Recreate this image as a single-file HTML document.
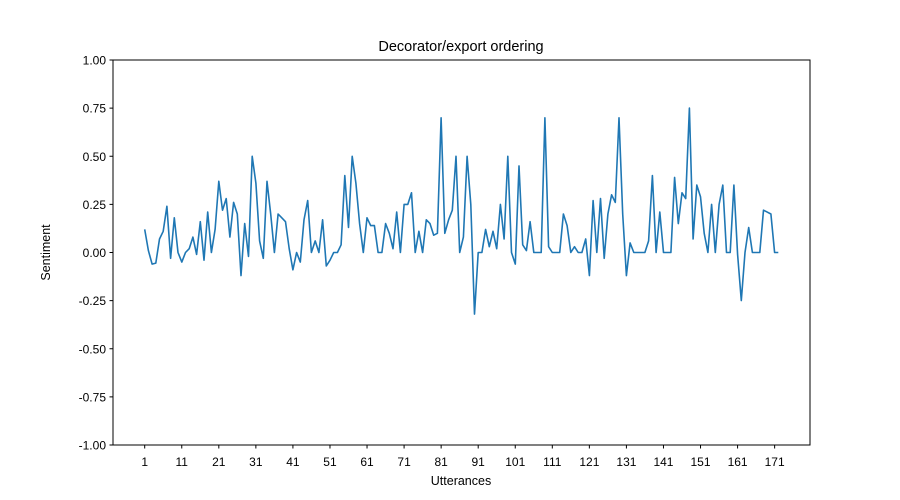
<!DOCTYPE html>
<html><head><meta charset="utf-8"><style>body{margin:0;background:#fff}svg{display:block}text{font-family:"Liberation Sans","DejaVu Sans",sans-serif;fill:#000}</style></head>
<body>
<svg id="s" width="900" height="500" xmlns="http://www.w3.org/2000/svg">
<rect x="113" y="60" width="697" height="385" fill="#fff" stroke="#000" stroke-width="1"/>
<text x="461" y="51" font-size="14.5" text-anchor="middle">Decorator/export ordering</text>
<text x="461" y="485" font-size="12.5" text-anchor="middle">Utterances</text>
<text x="50" y="252.5" font-size="12.5" text-anchor="middle" transform="rotate(-90 50 252.5)">Sentiment</text>
<g id="yt" font-size="12" text-anchor="end"></g>
<g id="xt" font-size="12" text-anchor="middle"></g>
<polyline id="ln" fill="none" stroke="#1f77b4" stroke-width="1.6" stroke-linejoin="round"/>
</svg>
<script>
var d=[0.12,0.01,-0.06,-0.055,0.07,0.11,0.24,-0.03,0.18,0,-0.05,0,0.02,0.08,-0.01,0.16,-0.04,0.21,0,0.12,0.37,0.22,0.28,0.08,0.26,0.2,-0.12,0.15,-0.02,0.5,0.36,0.06,-0.03,0.37,0.2,0,0.2,0.18,0.16,0.02,-0.09,0,-0.05,0.17,0.27,0,0.06,0,0.17,-0.07,-0.04,0,0,0.04,0.4,0.13,0.5,0.36,0.15,0,0.18,0.14,0.14,0,0,0.15,0.1,0.02,0.21,0,0.25,0.25,0.31,0,0.11,0,0.17,0.15,0.09,0.1,0.7,0.1,0.17,0.22,0.5,0,0.08,0.5,0.25,-0.32,0,0,0.12,0.03,0.11,0.02,0.25,0.07,0.5,0,-0.06,0.45,0.04,0.01,0.16,0,0,0,0.7,0.03,0,0,0,0.2,0.14,0,0.03,0,0,0.07,-0.12,0.27,0,0.28,-0.03,0.2,0.3,0.26,0.7,0.2,-0.12,0.05,0,0,0,0,0.06,0.4,0,0.21,0,0,0,0.39,0.15,0.31,0.28,0.75,0.07,0.35,0.29,0.1,0,0.25,0,0.25,0.35,0,0,0.35,-0.01,-0.25,0,0.13,0,0,0,0.22,0.21,0.2,0,0];
var ppu=3.7055,x0=144.7,p=[];
function X(i){return x0+(i-1)*ppu}function Y(v){return 252.5-v*192.5}
d.forEach(function(v,i){p.push(X(i+1).toFixed(1)+","+Y(v).toFixed(1))});
document.getElementById("ln").setAttribute("points",p.join(" "));
var ns="http://www.w3.org/2000/svg",yt=document.getElementById("yt"),xt=document.getElementById("xt");
for(var k=-4;k<=4;k++){var v=k*0.25,y=Y(v);var l=document.createElementNS(ns,"line");l.setAttribute("x1",109.5);l.setAttribute("x2",113);l.setAttribute("y1",y);l.setAttribute("y2",y);l.setAttribute("stroke","#000");yt.appendChild(l);var t=document.createElementNS(ns,"text");t.setAttribute("x",106);t.setAttribute("y",y+4.5);t.textContent=v.toFixed(2);yt.appendChild(t);}
for(var i=1;i<=171;i+=10){var x=X(i);var l=document.createElementNS(ns,"line");l.setAttribute("x1",x);l.setAttribute("x2",x);l.setAttribute("y1",445);l.setAttribute("y2",448.5);l.setAttribute("stroke","#000");xt.appendChild(l);var t=document.createElementNS(ns,"text");t.setAttribute("x",x);t.setAttribute("y",466);t.textContent=i;xt.appendChild(t);}
</script>
</body></html>
